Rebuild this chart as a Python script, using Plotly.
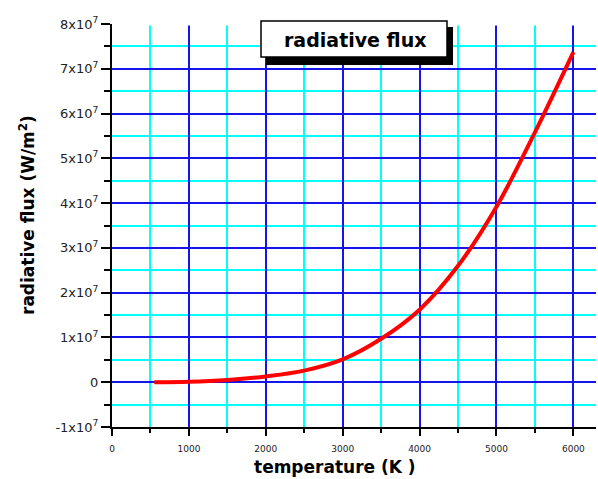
import plotly.graph_objects as go

# Data
temperature = [550, 1000, 1500, 2000, 2500, 3000, 3500, 4000, 4500, 5000, 5500, 6000]
flux = [0.0, 0.01e7, 0.05e7, 0.13e7, 0.26e7, 0.51e7, 0.97e7, 1.62e7, 2.6e7, 3.92e7, 5.58e7, 7.37e7]

y_tickvals = [-1e7, 0, 1e7, 2e7, 3e7, 4e7, 5e7, 6e7, 7e7, 8e7]
y_ticktext = ["-1x10<sup>7</sup>", "0", "1x10<sup>7</sup>", "2x10<sup>7</sup>", "3x10<sup>7</sup>",
              "4x10<sup>7</sup>", "5x10<sup>7</sup>", "6x10<sup>7</sup>", "7x10<sup>7</sup>", "8x10<sup>7</sup>"]
x_tickvals = [0, 1000, 2000, 3000, 4000, 5000, 6000]
x_ticktext = ["0", "1000", "2000", "3000", "4000", "5000", "6000"]

title_text = "radiative flux"
x_title = "temperature (K )"
y_title = "radiative flux (W/m<sup>2</sup>)"

W, H = 598, 479
L, R, T, B = 112, 2, 24, 52
pw, ph = W - L - R, H - T - B


def px(xp):
    return (xp - L) / pw


def py(yp):
    return (H - B - yp) / ph


BLUE = "rgb(20,20,235)"
CYAN = "rgb(0,255,255)"

fig = go.Figure()
fig.add_trace(go.Scatter(
    x=temperature, y=flux, mode="lines",
    line=dict(color="rgb(255,0,0)", width=4, shape="spline", smoothing=1.0),
    showlegend=False, hoverinfo="skip",
))

fig.update_layout(
    width=W, height=H,
    margin=dict(l=L, r=R, t=T, b=B),
    paper_bgcolor="white", plot_bgcolor="white",
    font=dict(family="DejaVu Sans", color="black"),
    xaxis=dict(
        range=[0, 6294], showline=True, linecolor="black", linewidth=2,
        tickvals=x_tickvals, ticktext=x_ticktext,
        ticks="outside", ticklen=7, tickwidth=2, tickcolor="black",
        tickfont=dict(family="DejaVu Sans", size=9, color="#222"),
        ticklabelstandoff=5,
        showgrid=True, gridcolor=BLUE, gridwidth=2, zeroline=False,
        minor=dict(dtick=500, tick0=0, ticks="outside", ticklen=4, tickwidth=2,
                   tickcolor="black", showgrid=True, gridcolor=CYAN, gridwidth=1.6),
    ),
    yaxis=dict(
        range=[-1e7, 8e7], showline=True, linecolor="black", linewidth=2,
        tickvals=y_tickvals, ticktext=y_ticktext,
        ticks="outside", ticklen=9, tickwidth=2, tickcolor="black",
        tickfont=dict(family="DejaVu Sans", size=13, color="#222"),
        showgrid=True, gridcolor=BLUE, gridwidth=2, zeroline=False,
        minor=dict(dtick=5e6, tick0=0, ticks="outside", ticklen=6, tickwidth=2,
                   tickcolor="black", showgrid=True, gridcolor=CYAN, gridwidth=1.6),
    ),
    shapes=[
        # hide the grid line along the top edge (the reference has none there)
        dict(type="line", xref="x domain", yref="y",
             x0=0.004, x1=1, y0=y_tickvals[-1], y1=y_tickvals[-1],
             line=dict(color="white", width=3), layer="above"),
        dict(type="rect", xref="paper", yref="paper",
             x0=px(266), x1=px(453), y0=py(65), y1=py(27),
             fillcolor="black", line=dict(width=0)),
        dict(type="rect", xref="paper", yref="paper",
             x0=px(261), x1=px(447), y0=py(57), y1=py(21),
             fillcolor="white", line=dict(color="black", width=1.5)),
    ],
    annotations=[
        dict(text="<b>" + title_text + "</b>", xref="paper", yref="paper",
             x=px(355), y=py(40), showarrow=False,
             font=dict(family="DejaVu Sans", size=19, color="black"),
             xanchor="center", yanchor="middle"),
        dict(text="<b>" + x_title + "</b>", xref="paper", yref="paper",
             x=px(335), y=py(467), showarrow=False,
             font=dict(family="DejaVu Sans", size=17, color="black"),
             xanchor="center", yanchor="middle"),
        dict(text="<b>" + y_title + "</b>", xref="paper", yref="paper",
             x=px(27), y=py(215), showarrow=False, textangle=-90,
             font=dict(family="DejaVu Sans", size=17, color="black"),
             xanchor="center", yanchor="middle"),
    ],
)

fig.write_html("out.html")
